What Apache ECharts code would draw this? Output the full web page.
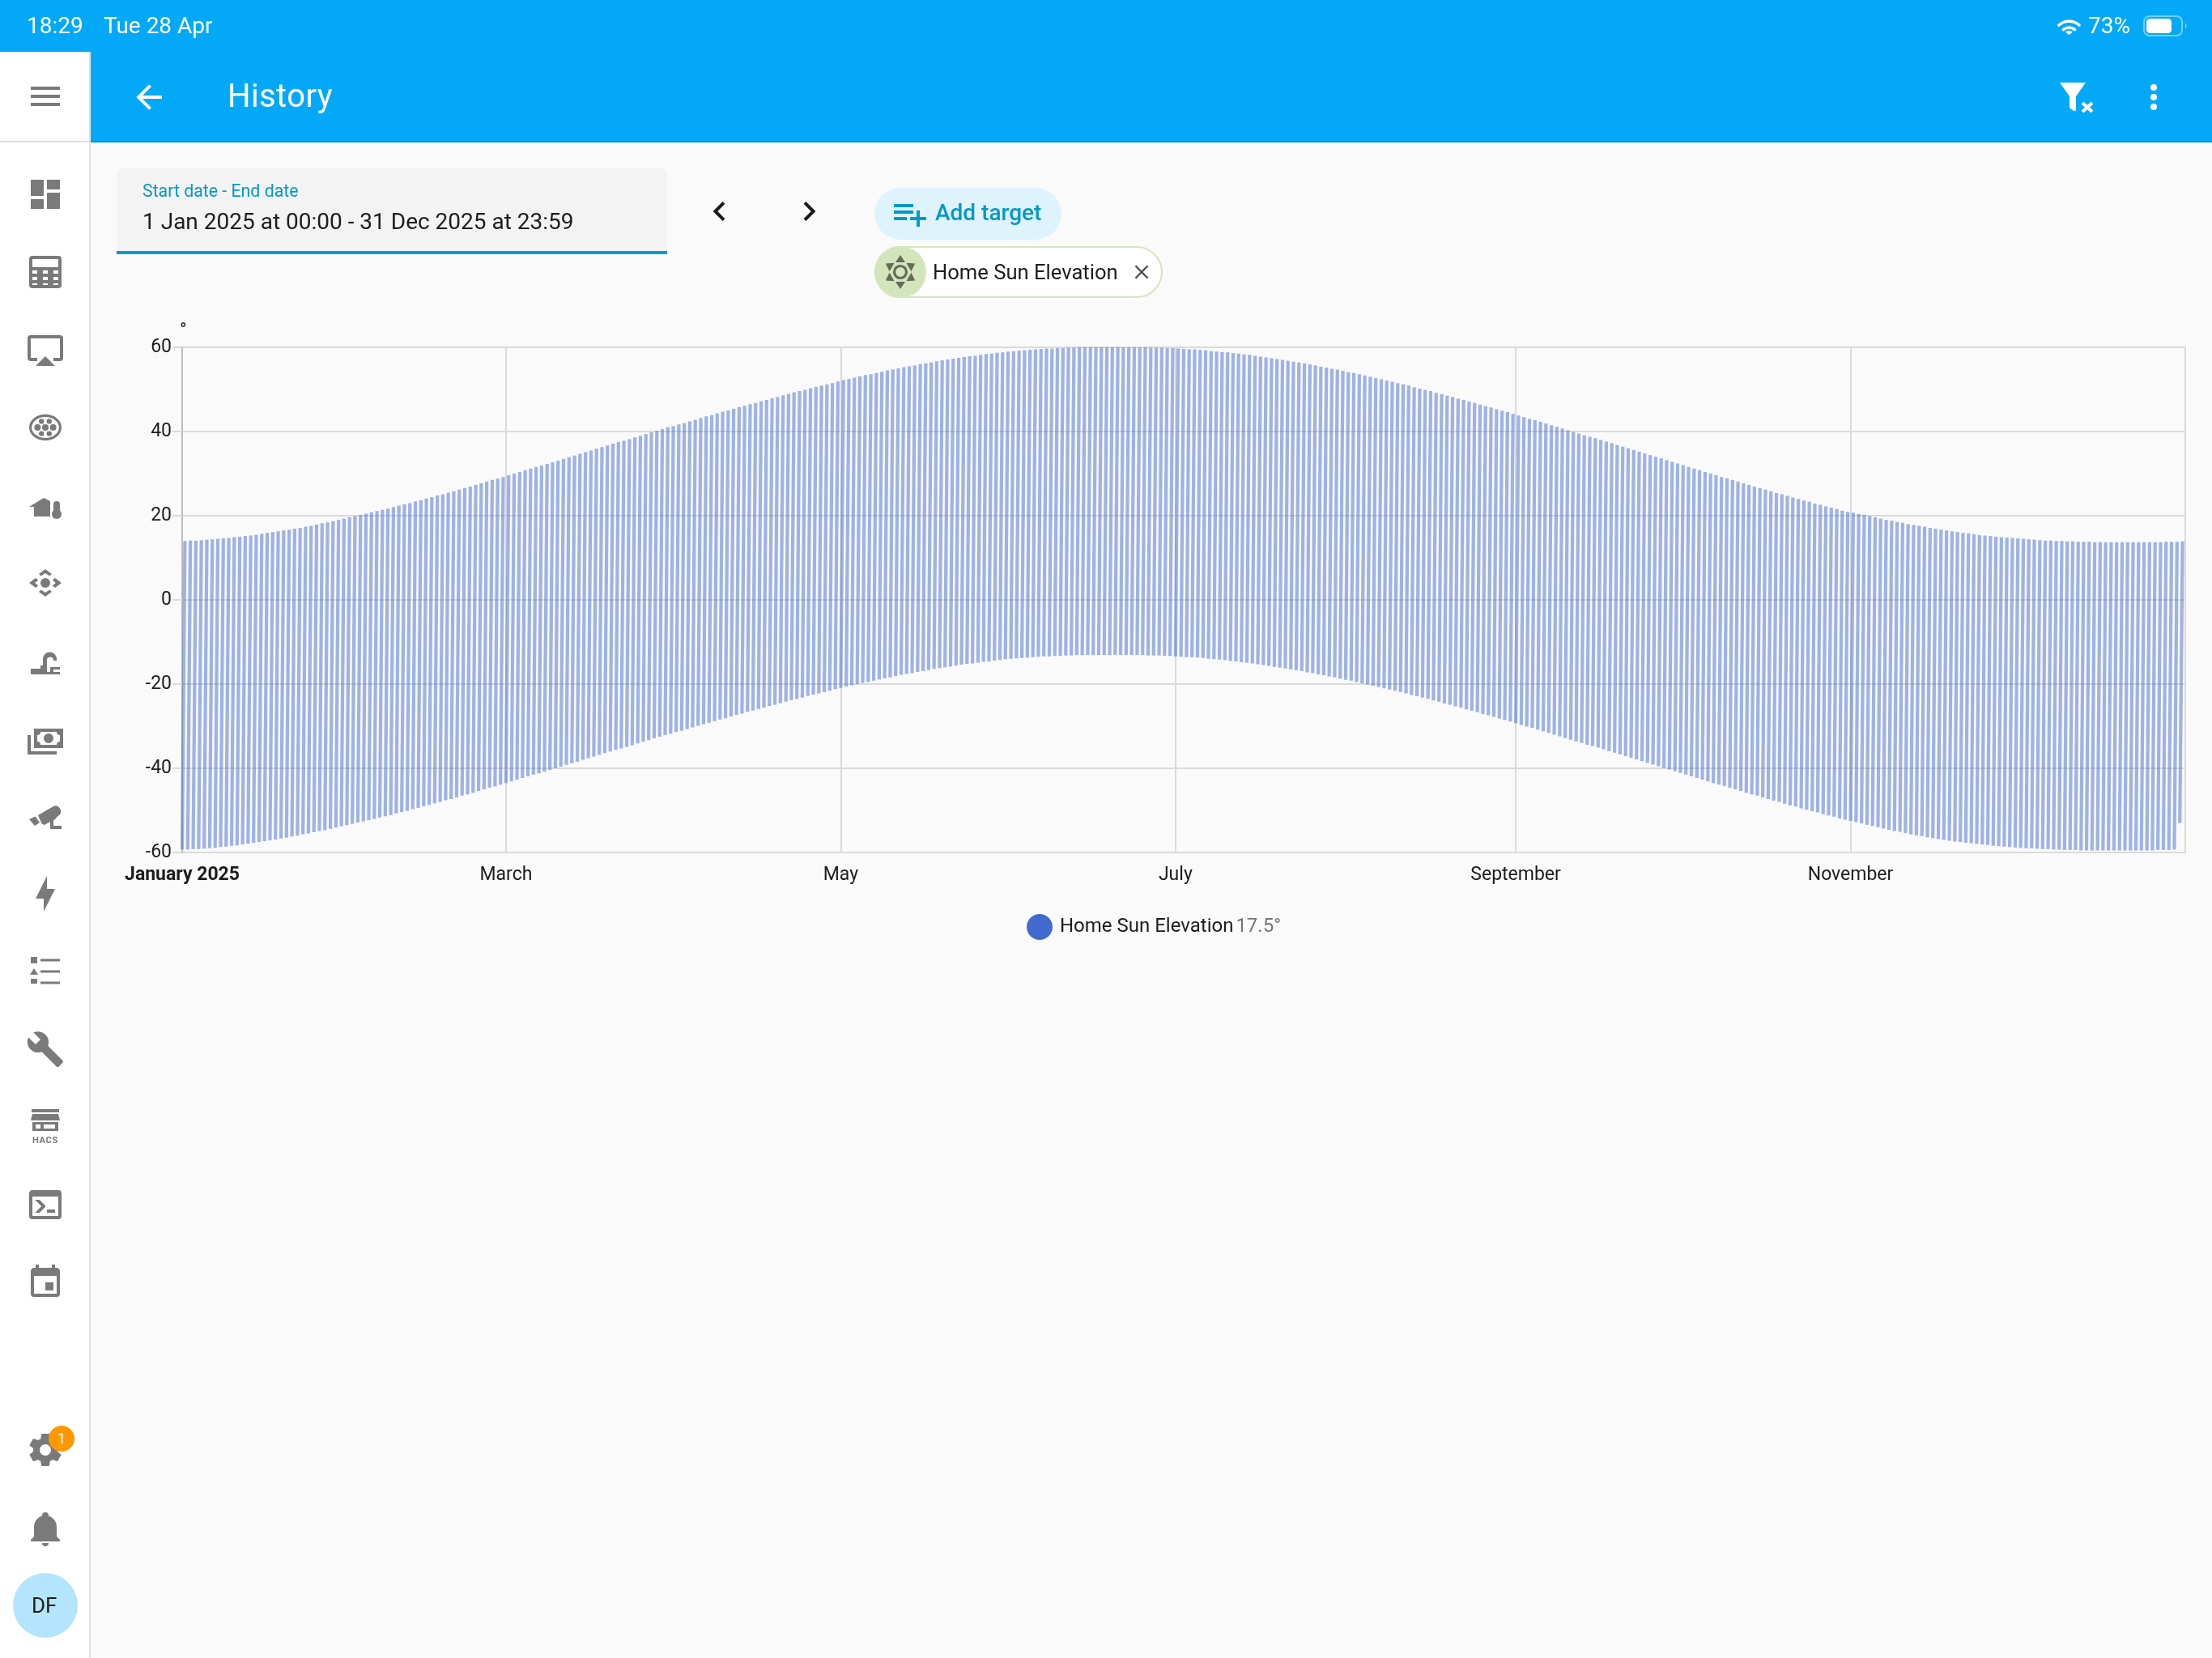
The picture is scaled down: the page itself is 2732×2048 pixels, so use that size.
<!DOCTYPE html>
<html><head><meta charset="utf-8"><title>History</title>
<script src="https://cdn.jsdelivr.net/npm/echarts@6/dist/echarts.min.js"></script>
<style>
html,body{margin:0;padding:0;width:2732px;height:2048px;overflow:hidden;background:#fafafa;font-family:Roboto,sans-serif;}
#chart{position:absolute;left:0;top:0;width:2732px;height:2048px;}
.box{position:absolute;}
.t{position:absolute;white-space:nowrap;line-height:1;transform:translateY(-50%);font-family:Roboto,sans-serif;}
svg{position:absolute;left:0;top:0;pointer-events:none;}
</style></head><body>
<div id="chart"></div>
<div class="box" style="left:0;top:0;width:2732px;height:174px;background:#03a9f6;"></div>
<div class="box" style="left:112px;top:174px;width:2620px;height:2px;background:#0399dc;"></div>
<div class="box" style="left:0;top:64px;width:110px;height:1984px;background:#fff;"></div>
<div class="box" style="left:110px;top:64px;width:2px;height:1984px;background:#e2e2e2;"></div>
<div class="box" style="left:0;top:174px;width:110px;height:2px;background:#e2e2e2;"></div>
<div class="box" style="left:144px;top:208px;width:680px;height:102px;background:#f3f3f3;border-radius:8px 8px 0 0;"></div>
<div class="box" style="left:144px;top:310px;width:680px;height:4px;background:#0099c9;"></div>
<div class="box" style="left:1080px;top:232px;width:231px;height:64px;background:#dff3fc;border-radius:32px;"></div>
<div class="box" style="left:1080px;top:304px;width:356px;height:64px;box-sizing:border-box;background:#fff;border:2px solid #d3e6bb;border-radius:32px;"></div>
<div class="box" style="left:1080px;top:304px;width:64px;height:64px;background:#d3e6bb;border-radius:32px;"></div>
<div class="box" style="left:16px;top:1943px;width:80px;height:80px;background:#b3e5fc;border-radius:50%;"></div>
<div class="box" style="left:60px;top:1761px;width:32px;height:32px;background:#ff9800;border-radius:50%;z-index:3;"></div>
<div id="chrome"></div>
<script>
// ---- chart data ----
const seriesName = 'Home Sun Elevation';
const seriesUnit = '°';
const legendValue = '17.5';
const yTicks = [-60, -40, -20, 0, 20, 40, 60];
const monthTicks = ['2025-01-01','2025-03-01','2025-05-01','2025-07-01','2025-09-01','2025-11-01'];
const monthLabels = ['January 2025','March','May','July','September','November'];
const rangeStart = '2025-01-01T00:00';
const rangeEnd = '2025-12-31T23:59';
// daily highest elevation (solar noon), Jan -> Dec
const dailyMax = [
14.0,14.1,14.1,14.2,14.3,14.4,14.5,14.6,14.7,14.9,15.0,15.2,15.3,15.5,15.7,15.9,16.1,16.3,16.5,16.7,16.9,17.1,17.4,17.6,17.9,18.2,18.4,18.7,19.0,19.3,19.6,
19.9,20.2,20.5,20.8,21.1,21.4,21.7,22.0,22.4,22.7,23.0,23.4,23.7,24.1,24.4,24.8,25.1,25.5,25.8,26.2,26.6,26.9,27.3,27.7,28.1,28.5,28.8,29.2,
29.6,30.0,30.4,30.8,31.2,31.6,31.9,32.3,32.7,33.1,33.5,33.9,34.3,34.7,35.1,35.5,35.9,36.3,36.7,37.1,37.5,37.8,38.2,38.6,39.0,39.4,39.8,40.2,40.6,41.0,41.3,
41.7,42.0,42.4,42.8,43.2,43.6,43.9,44.3,44.7,45.0,45.4,45.8,46.1,46.5,46.8,47.2,47.5,47.9,48.2,48.6,48.9,49.3,49.6,49.9,50.3,50.6,50.9,51.2,51.5,51.9,
52.2,52.5,52.8,53.1,53.4,53.6,53.9,54.2,54.5,54.7,55.0,55.3,55.5,55.7,56.0,56.2,56.4,56.7,56.9,57.1,57.3,57.5,57.7,57.9,58.0,58.2,58.4,58.5,58.7,58.8,59.0,
59.1,59.2,59.3,59.4,59.5,59.6,59.7,59.7,59.8,59.8,59.9,59.9,60.0,60.0,60.0,60.0,60.0,60.0,60.0,60.0,60.0,60.0,60.0,60.0,60.0,59.9,59.9,59.9,59.8,59.8,
59.7,59.6,59.5,59.5,59.4,59.3,59.1,59.0,58.9,58.8,58.6,58.5,58.3,58.2,58.0,57.8,57.6,57.4,57.2,57.0,56.8,56.6,56.4,56.2,55.9,55.7,55.4,55.2,54.9,54.7,54.4,
54.1,53.9,53.6,53.3,53.0,52.7,52.4,52.1,51.8,51.5,51.2,50.9,50.5,50.2,49.9,49.6,49.2,48.9,48.5,48.2,47.8,47.5,47.1,46.8,46.4,46.0,45.7,45.3,44.9,44.6,44.2,
43.8,43.4,43.0,42.7,42.3,41.9,41.5,41.1,40.7,40.3,39.9,39.5,39.1,38.7,38.4,38.0,37.6,37.2,36.8,36.4,36.0,35.6,35.2,34.8,34.4,34.0,33.6,33.2,32.8,32.4,
32.0,31.6,31.2,30.8,30.4,30.0,29.6,29.2,28.9,28.5,28.1,27.7,27.3,26.9,26.6,26.2,25.8,25.4,25.1,24.7,24.3,24.0,23.6,23.3,22.9,22.6,22.2,21.9,21.6,21.2,20.9,
20.7,20.4,20.2,19.9,19.6,19.3,19.0,18.8,18.5,18.3,18.0,17.8,17.6,17.4,17.1,16.9,16.7,16.5,16.3,16.1,15.9,15.8,15.6,15.4,15.3,15.2,15.0,14.9,14.8,14.7,
14.6,14.5,14.4,14.3,14.2,14.1,14.1,14.0,14.0,13.9,13.9,13.8,13.8,13.8,13.7,13.7,13.7,13.7,13.7,13.7,13.7,13.7,13.7,13.7,13.7,13.7,13.7,13.8,13.8,13.8,13.9];
// daily lowest elevation (solar midnight), Jan -> Dec
const dailyMin = [
-59.3,-59.3,-59.2,-59.2,-59.1,-59.0,-58.9,-58.7,-58.6,-58.4,-58.3,-58.1,-57.9,-57.7,-57.5,-57.3,-57.1,-56.9,-56.7,-56.5,-56.2,-56.0,-55.7,-55.5,-55.2,-54.9,-54.7,-54.4,-54.1,-53.8,-53.5,
-53.2,-52.9,-52.6,-52.3,-52.0,-51.7,-51.4,-51.1,-50.7,-50.4,-50.1,-49.7,-49.4,-49.0,-48.7,-48.3,-48.0,-47.6,-47.3,-46.9,-46.5,-46.2,-45.8,-45.4,-45.0,-44.6,-44.3,-43.9,
-43.5,-43.1,-42.7,-42.3,-41.9,-41.5,-41.2,-40.8,-40.4,-40.0,-39.6,-39.2,-38.8,-38.4,-38.0,-37.6,-37.2,-36.8,-36.4,-36.0,-35.6,-35.3,-34.9,-34.5,-34.1,-33.7,-33.3,-32.9,-32.5,-32.1,-31.8,
-31.4,-31.1,-30.7,-30.3,-29.9,-29.5,-29.2,-28.8,-28.4,-28.1,-27.7,-27.3,-27.0,-26.6,-26.3,-25.9,-25.6,-25.2,-24.9,-24.5,-24.2,-23.8,-23.5,-23.2,-22.8,-22.5,-22.2,-21.9,-21.6,-21.2,
-20.9,-20.6,-20.3,-20.0,-19.7,-19.5,-19.2,-18.9,-18.6,-18.4,-18.1,-17.8,-17.6,-17.4,-17.1,-16.9,-16.7,-16.4,-16.2,-16.0,-15.8,-15.6,-15.4,-15.2,-15.1,-14.9,-14.7,-14.6,-14.4,-14.3,-14.1,
-14.0,-13.9,-13.8,-13.7,-13.6,-13.5,-13.4,-13.4,-13.3,-13.3,-13.2,-13.2,-13.1,-13.1,-13.1,-13.1,-13.1,-13.1,-13.1,-13.1,-13.1,-13.1,-13.1,-13.1,-13.1,-13.2,-13.2,-13.2,-13.3,-13.3,
-13.4,-13.5,-13.6,-13.6,-13.7,-13.8,-14.0,-14.1,-14.2,-14.3,-14.5,-14.6,-14.8,-14.9,-15.1,-15.3,-15.5,-15.7,-15.9,-16.1,-16.3,-16.5,-16.7,-16.9,-17.2,-17.4,-17.7,-17.9,-18.2,-18.4,-18.7,
-19.0,-19.2,-19.5,-19.8,-20.1,-20.4,-20.7,-21.0,-21.3,-21.6,-21.9,-22.2,-22.6,-22.9,-23.2,-23.5,-23.9,-24.2,-24.6,-24.9,-25.3,-25.6,-26.0,-26.3,-26.7,-27.1,-27.4,-27.8,-28.2,-28.5,-28.9,
-29.3,-29.7,-30.1,-30.4,-30.8,-31.2,-31.6,-32.0,-32.4,-32.8,-33.2,-33.6,-34.0,-34.4,-34.7,-35.1,-35.5,-35.9,-36.3,-36.7,-37.1,-37.5,-37.9,-38.3,-38.7,-39.1,-39.5,-39.9,-40.3,-40.7,
-41.1,-41.5,-41.9,-42.3,-42.7,-43.1,-43.5,-43.9,-44.2,-44.6,-45.0,-45.4,-45.8,-46.2,-46.5,-46.9,-47.3,-47.7,-48.0,-48.4,-48.8,-49.1,-49.5,-49.8,-50.2,-50.5,-50.9,-51.2,-51.5,-51.9,-52.2,
-52.5,-52.8,-53.1,-53.4,-53.7,-54.0,-54.3,-54.6,-54.9,-55.1,-55.4,-55.7,-55.9,-56.1,-56.4,-56.6,-56.8,-57.0,-57.2,-57.4,-57.5,-57.7,-57.8,-58.0,-58.1,-58.2,-58.4,-58.5,-58.6,-58.7,
-58.8,-58.9,-59.0,-59.0,-59.1,-59.2,-59.2,-59.3,-59.3,-59.4,-59.4,-59.4,-59.5,-59.5,-59.5,-59.5,-59.5,-59.5,-59.5,-59.5,-59.5,-59.5,-59.5,-59.5,-59.5,-59.5,-59.4,-59.4,-59.4,-59.3,-53.0];

// ---- build the zig-zag of the elevation trace: low point at midnight, high point at noon ----
const DAY = 86400000;
const t0 = new Date(rangeStart).getTime();
const tEnd = new Date(rangeEnd).getTime();
const trace = [];
dailyMax.forEach((hi, d) => {
  const midnight = t0 + d * DAY;
  trace.push([midnight, dailyMin[d]]);
  trace.push([midnight + DAY / 2, hi]);
  trace.push([midnight + DAY * 0.75, null]);
});
const tickTimes = monthTicks.map(s => new Date(s + 'T00:00').getTime());
const labelFor = v => { const i = tickTimes.indexOf(+v); return i < 0 ? '' : monthLabels[i]; };

const chart = echarts.init(document.getElementById('chart'), null, {renderer:'canvas'});
const GRID = '#dadada';
const FONT = 'Roboto';
chart.setOption({
  animation:false,
  backgroundColor:'transparent',
  textStyle:{fontFamily:FONT},
  grid:{left:225,right:33,top:429,bottom:995,show:true,borderColor:GRID,borderWidth:2,backgroundColor:'transparent',containLabel:false},
  xAxis:{type:'value',min:t0,max:tEnd,scale:true,
    axisLine:{show:true,lineStyle:{color:GRID,width:2}},
    axisTick:{show:false,customValues:tickTimes},
    splitLine:{show:true,customValues:tickTimes,lineStyle:{color:GRID,width:2}},
    axisLabel:{customValues:tickTimes,margin:17,fontSize:23,color:'#1c1c1c',fontFamily:FONT,
      hideOverlap:false,showMinLabel:true,
      formatter:v=>{const s=labelFor(v);return +v===tickTimes[0]?'{b|'+s+'}':s;},
      rich:{b:{fontWeight:'bold',fontSize:23,color:'#1c1c1c',fontFamily:FONT}}}},
  yAxis:{type:'value',min:yTicks[0],max:yTicks[yTicks.length-1],interval:20,
    name:seriesUnit,nameLocation:'end',nameGap:8,
    nameTextStyle:{fontSize:23,color:'#1c1c1c',fontFamily:FONT,align:'left',padding:[0,0,0,-3]},
    axisLine:{show:true,lineStyle:{color:'#bdbdbd',width:2}},
    axisTick:{show:true,length:12,lineStyle:{color:GRID,width:2}},
    splitLine:{show:true,lineStyle:{color:GRID,width:2}},
    axisLabel:{margin:13,fontSize:23,color:'#1c1c1c',fontFamily:FONT}},
  legend:{show:true,left:1263,top:1124,itemWidth:32,itemHeight:32,
    data:[{name:seriesName,icon:'circle',itemStyle:{color:'#4269d0',opacity:1}}],
    textStyle:{padding:[0,0,0,4],fontFamily:FONT,rich:{
      n:{fontSize:24,color:'#1c1c1c',fontFamily:FONT},
      v:{fontSize:24,color:'#757575',fontFamily:FONT}}},
    formatter:n=>'{n|'+n+'} {v|'+legendValue+seriesUnit+'}'},
  tooltip:{show:false},
  series:[{name:seriesName,type:'line',data:trace,showSymbol:false,symbol:'none',connectNulls:false,clip:false,
    silent:true,itemStyle:{color:'#4269d0'},
    lineStyle:{color:'rgba(66,105,208,0.5)',width:4.2,cap:'butt'}}]
});

// ---- page chrome ----
const G='#7a7a7a';
const mdi = {
 menu:'M3,6H21V8H3V6M3,11H21V13H3V11M3,16H21V18H3V16Z',
 dash:'M13,3V9H21V3M13,21H21V11H13M3,21H11V15H3M3,13H11V3H3V13Z',
 airplay:'M6,22H18L12,16M21,3H3A2,2 0 0,0 1,5V17A2,2 0 0,0 3,19H7V17H3V5H21V17H17V19H21A2,2 0 0,0 23,17V5A2,2 0 0,0 21,3Z',
 cash:'M5,6H23V18H5V6M14,9A3,3 0 0,1 17,12A3,3 0 0,1 14,15A3,3 0 0,1 11,12A3,3 0 0,1 14,9M9,8A2,2 0 0,1 7,10V14A2,2 0 0,1 9,16H19A2,2 0 0,1 21,14V10A2,2 0 0,1 19,8H9M1,10H3V20H19V22H1V10Z',
 bolt:'M11 15H6L13 1V9H18L11 23V15Z',
 wrench:'M22.7,19L13.6,9.9C14.5,7.6 14,4.9 12.1,3C10.1,1 7.1,0.6 4.7,1.7L9,6L6,9L1.6,4.7C0.4,7.1 0.9,10.1 2.9,12.1C4.8,14 7.5,14.5 9.8,13.6L18.9,22.7C19.3,23.1 19.9,23.1 20.3,22.7L22.6,20.4C23.1,20 23.1,19.3 22.7,19Z',
 console:'M20,19V7H4V19H20M20,3A2,2 0 0,1 22,5V19A2,2 0 0,1 20,21H4A2,2 0 0,1 2,19V5C2,3.89 2.9,3 4,3H20M13,17V15H18V17H13M9.58,13L5.57,9H8.4L11.7,12.3C12.09,12.69 12.09,13.33 11.7,13.72L8.42,17H5.59L9.58,13Z',
 cal:'M19,19H5V8H19M16,1V3H8V1H6V3H5C3.89,3 3,3.89 3,5V19A2,2 0 0,0 5,21H19A2,2 0 0,0 21,19V5C21,3.89 20.1,3 19,3H18V1M17,12H12V17H17V12Z',
 cog:'M12,15.5A3.5,3.5 0 0,1 8.5,12A3.5,3.5 0 0,1 12,8.5A3.5,3.5 0 0,1 15.5,12A3.5,3.5 0 0,1 12,15.5M19.43,12.97C19.47,12.65 19.5,12.33 19.5,12C19.5,11.67 19.47,11.34 19.43,11L21.54,9.37C21.73,9.22 21.78,8.95 21.66,8.73L19.66,5.27C19.54,5.05 19.27,4.96 19.05,5.05L16.56,6.05C16.04,5.66 15.5,5.32 14.87,5.07L14.5,2.42C14.46,2.18 14.25,2 14,2H10C9.75,2 9.54,2.18 9.5,2.42L9.13,5.07C8.5,5.32 7.96,5.66 7.44,6.05L4.95,5.05C4.73,4.96 4.46,5.05 4.34,5.27L2.34,8.73C2.21,8.95 2.27,9.22 2.46,9.37L4.57,11C4.53,11.34 4.5,11.67 4.5,12C4.5,12.33 4.53,12.65 4.57,12.97L2.46,14.63C2.27,14.78 2.21,15.05 2.34,15.27L4.34,18.73C4.46,18.95 4.73,19.03 4.95,18.95L7.44,17.94C7.96,18.34 8.5,18.68 9.13,18.93L9.5,21.58C9.54,21.82 9.75,22 10,22H14C14.25,22 14.46,21.82 14.5,21.58L14.87,18.93C15.5,18.67 16.04,18.34 16.56,17.94L19.05,18.95C19.27,19.03 19.54,18.95 19.66,18.73L21.66,15.27C21.78,15.05 21.73,14.78 21.54,14.63L19.43,12.97Z',
 bell:'M21,19V20H3V19L5,17V11C5,7.9 7.03,5.17 10,4.29C10,4.19 10,4.1 10,4A2,2 0 0,1 12,2A2,2 0 0,1 14,4C14,4.1 14,4.19 14,4.29C16.97,5.17 19,7.9 19,11V17L21,19M14,21A2,2 0 0,1 12,23A2,2 0 0,1 10,21',
 back:'M20,11V13H8L13.5,18.5L12.08,19.92L4.16,12L12.08,4.08L13.5,5.5L8,11H20Z',
 left:'M15.41,16.58L10.83,12L15.41,7.41L14,6L8,12L14,18L15.41,16.58Z',
 right:'M8.59,16.58L13.17,12L8.59,7.41L10,6L16,12L10,18L8.59,16.58Z',
 plus:'M2,16H10V14H2M18,14V10H16V14H12V16H16V20H18V16H22V14M14,6H2V8H14M14,10H2V12H14V10Z',
 close:'M19,6.41L17.59,5L12,10.59L6.41,5L5,6.41L10.59,12L5,17.59L6.41,19L12,13.41L17.59,19L19,17.59L13.41,12L19,6.41Z'
};
const p = (d,c)=>`<path d="${d}" fill="${c||G}"/>`;
const sideIcons = [
 p(mdi.dash),
 `<path fill-rule="evenodd" fill="${G}" d="M4,2H20A2,2 0 0,1 22,4V20A2,2 0 0,1 20,22H4A2,2 0 0,1 2,20V4A2,2 0 0,1 4,2ZM4,4V9H20V4ZM4,11V13H7V11ZM10.5,11V13H13.5V11ZM17,11V13H20V11ZM4,15V17H7V15ZM10.5,15V17H13.5V15ZM17,15V17H20V15ZM4,19V20H7V19ZM10.5,19V20H13.5V19ZM17,19V20H20V19Z"/>`,
 p(mdi.airplay),
 `<ellipse cx="12" cy="12" rx="9.2" ry="7.3" fill="none" stroke="${G}" stroke-width="1.6"/><g fill="${G}"><circle cx="12" cy="12" r="2"/><circle cx="7.2" cy="12" r="2"/><circle cx="16.8" cy="12" r="2"/><circle cx="9.6" cy="8.2" r="1.6"/><circle cx="14.4" cy="8.2" r="1.6"/><circle cx="9.6" cy="15.8" r="1.6"/><circle cx="14.4" cy="15.8" r="1.6"/></g>`,
 p('M2,13L11,7.5L15,9.5V19H5V13Z')+`<rect x="17" y="9.5" width="4" height="7" rx="2" fill="${G}"/><circle cx="19" cy="17.5" r="3" fill="${G}"/>`,
 `<circle cx="12" cy="12" r="3" fill="${G}"/>`+p('M12,3.5L16,6.5L14.6,7.8L12,6L9.4,7.8L8,6.5ZM12,20.5L16,17.5L14.6,16.2L12,18L9.4,16.2L8,17.5ZM2,12L6,9L7.6,10.2L5.6,12L7.6,13.8L6,15ZM22,12L18,9L16.4,10.2L18.4,12L16.4,13.8L18,15Z'),
 p('M3,19H21V20.5H3ZM3,17H9V15H10.5V19H3ZM10.5,11A4.2,4.2 0 0,1 19,11V12H17V11A2.2,2.2 0 0,0 13,11V19H10.5ZM15,16H21V17.5H17V19H15Z'),
 p(mdi.cash),
 p('M7.5,11.5L17,6C19,5 21,6.5 21.5,8.5C22,10.5 20.5,11.5 19.5,12.3L19,12.7C18.6,13.5 17.8,14.3 17,14.6V18H22V20H15V15.5L12,17.2C11,17.6 10.2,17.2 9.6,16.3ZM2,14L5.8,12.2L8.5,16L5.5,18Z'),
 p(mdi.bolt),
 p('M3,3H7V7H3ZM5,10L7.5,14H2.5ZM3,16.5H7V19.5H3ZM9,4.2H21V5.8H9ZM9,11.2H21V12.8H9ZM9,18.2H21V19.8H9Z'),
 p(mdi.wrench),
 p('M3.5,1H20.5V3H3.5ZM4,4H20L21,8H3ZM4,9H20V13H18V10.5H11V13H9V10.5H6V13H20V14.5H4Z')+`<text x="12" y="22" text-anchor="middle" font-family="Roboto" font-weight="700" font-size="5.6" letter-spacing=".3" fill="${G}">HACS</text>`,
 p(mdi.console),
 p(mdi.cal)
];
let svg = '<svg width="2732" height="2048" viewBox="0 0 2732 2048" style="z-index:2">';
const place=(x,y,s,c)=>`<g transform="translate(${x},${y}) scale(${s})">${c}</g>`;
svg += place(32,95,2,p(mdi.menu));
sideIcons.forEach((ic,i)=>{svg+=place(32,216+96*i,2,ic);});
svg += place(32,1767,2,p(mdi.cog));
svg += place(32,1864,2,p(mdi.bell));
svg += place(160,96,2,p(mdi.back,'#fff'));
svg += place(864.6,237,2,p(mdi.left,'#1a1a1a'));
svg += place(975.4,237,2,p(mdi.right,'#1a1a1a'));
svg += place(1100,240,2,p(mdi.plus,'#0099c9'));
svg += place(1395.6,321.6,1.2,p(mdi.close,'#555'));
// chip sun
let sun=`<circle cx="1112" cy="336" r="7.5" fill="none" stroke="#666b5c" stroke-width="3.2"/>`;
for(let a=0;a<360;a+=60){sun+=`<polygon points="1112,315 1118,324 1106,324" fill="#666b5c" transform="rotate(${a} 1112 336)"/>`;}
svg += sun;
// status bar & actions
svg += `<path d="M2543,31A19,19 0 0,1 2568,31" fill="none" stroke="#fff" stroke-width="3.6" stroke-linecap="round"/><path d="M2548.5,36.5A11,11 0 0,1 2562.5,36.5" fill="none" stroke="#fff" stroke-width="3.6" stroke-linecap="round"/><path d="M2551,39.5L2555.5,43L2560,39.5A7,7 0 0,0 2551,39.5Z" fill="#fff"/>`;
svg += `<rect x="2648" y="20" width="47" height="24" rx="7" fill="none" stroke="rgba(255,255,255,.45)" stroke-width="2"/><rect x="2651" y="23" width="31" height="18" rx="4.5" fill="#fff"/><path d="M2699,28Q2702,32 2699,36Z" fill="rgba(255,255,255,.5)"/>`;
svg += `<path d="M2544,102H2576L2564,119V135Q2564,138 2561,137L2557,134Q2556,133 2556,131V119Z" fill="#fff"/><path d="M2572,127L2584,138M2584,127L2572,138" stroke="#fff" stroke-width="4"/>`;
svg += `<circle cx="2660" cy="108" r="4" fill="#fff"/><circle cx="2660" cy="120" r="4" fill="#fff"/><circle cx="2660" cy="132" r="4" fill="#fff"/>`;
svg += '</svg>';
const T=(x,y,s,size,color,extra)=>`<div class="t" style="left:${x}px;top:${y}px;font-size:${size}px;color:${color};z-index:2;${extra||''}">${s}</div>`;
let html = svg;
html += T(33,32,'18:29',28,'#fff');
html += T(128,32,'Tue 28 Apr',28,'#fff');
html += T(2579,32,'73%',28,'#fff');
html += T(281,119,'History',40,'#fff','letter-spacing:.4px;');
html += T(176,236,'Start date - End date',21.3,'#0099c9');
html += T(176,274,'1 Jan 2025 at 00:00 - 31 Dec 2025 at 23:59',28,'#1c1c1c');
html += T(1155,263,'Add target',28,'#0099c9','font-weight:500;');
html += T(1152,337,seriesName,25.6,'#1c1c1c');
html += T(39,1983,'DF',26,'#1c1c1c');
html += T(71,1777,'1',18,'#fff','z-index:4;');
document.getElementById('chrome').innerHTML = html;
</script>
</body></html>
